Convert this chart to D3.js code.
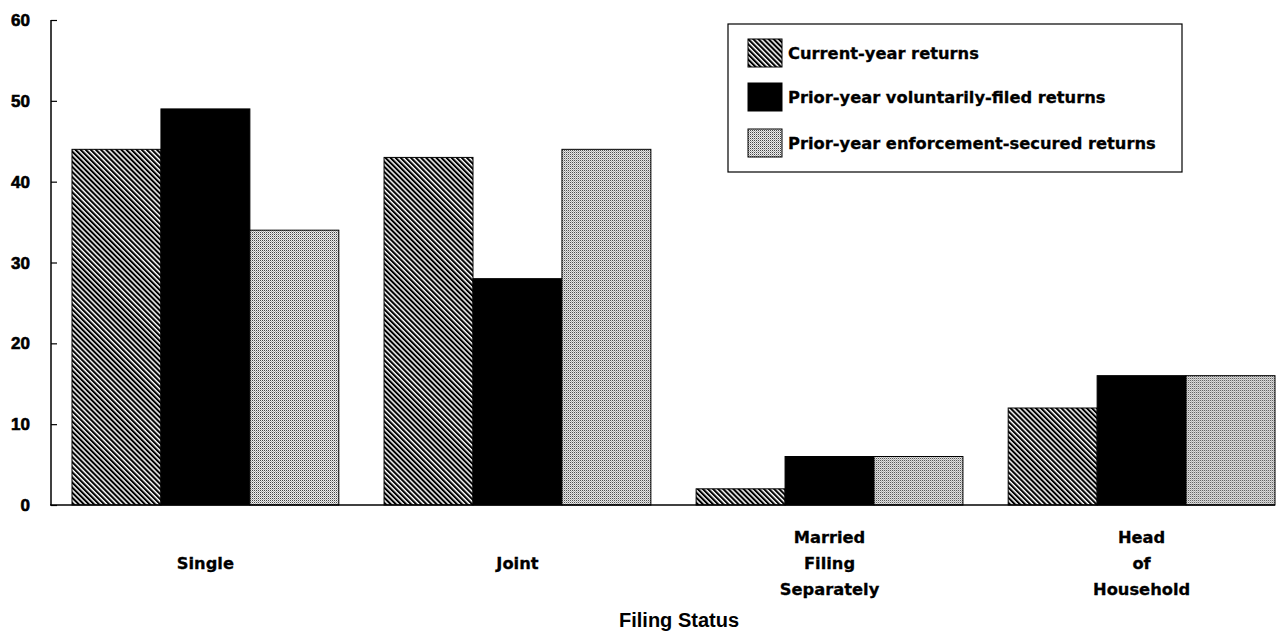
<!DOCTYPE html>
<html>
<head>
<meta charset="utf-8">
<script src="https://cdn.jsdelivr.net/npm/d3@7"></script>
<style>
  body { margin: 0; background: #fff; }
  text { font-family: "DejaVu Sans", sans-serif; font-weight: bold; fill: #000; }
  text.lib { font-family: "Liberation Sans", Arial, sans-serif; }
</style>
</head>
<body>
<svg id="chart" width="1284" height="632"></svg>
<script>
const categories = ["Single", "Joint", "Married\nFiling\nSeparately", "Head\nof\nHousehold"];
const seriesNames = ["Current-year returns", "Prior-year voluntarily-filed returns", "Prior-year enforcement-secured returns"];
const currentYear = [44, 43, 2, 12];
const priorVoluntary = [49, 28, 6, 16];
const priorEnforcement = [34, 44, 6, 16];
const yTicks = [0, 10, 20, 30, 40, 50, 60];
const xTitle = "Filing Status";

const seriesValues = [currentYear, priorVoluntary, priorEnforcement];
const fills = ["url(#hatch)", "#000", "url(#dots)"];

const svg = d3.select("#chart");
const defs = svg.append("defs");

const hatch = defs.append("pattern").attr("id", "hatch")
  .attr("patternUnits", "userSpaceOnUse").attr("width", 3.6).attr("height", 3.6)
  .attr("patternTransform", "rotate(-45)");
hatch.append("rect").attr("width", 3.6).attr("height", 3.6).attr("fill", "#fff");
hatch.append("rect").attr("x", 0).attr("y", 0).attr("width", 2.1).attr("height", 3.6).attr("fill", "#000");

const dots = defs.append("pattern").attr("id", "dots")
  .attr("patternUnits", "userSpaceOnUse").attr("width", 2).attr("height", 2);
dots.append("rect").attr("width", 2).attr("height", 2).attr("fill", "#eeeeee");
dots.append("rect").attr("x", 0).attr("y", 0).attr("width", 1).attr("height", 1).attr("fill", "#444");
dots.append("rect").attr("x", 1).attr("y", 1).attr("width", 1).attr("height", 1).attr("fill", "#aaa");

const axisX = 51, plotTop = 20, plotBottom = 505, plotRight = 1275;

const y = d3.scaleLinear().domain([0, 60]).range([plotBottom, plotTop]);
const x0 = d3.scaleBand().domain(categories).range([72, plotRight]).paddingInner(0.145).paddingOuter(0);
const x1 = d3.scaleBand().domain(d3.range(seriesNames.length)).range([0, x0.bandwidth()]);

// bars
categories.forEach((c, ci) => {
  const g = svg.append("g").attr("transform", `translate(${x0(c)},0)`);
  g.selectAll("rect").data(seriesValues.map((s, si) => ({ si, v: s[ci] })))
    .join("rect")
    .attr("x", d => x1(d.si))
    .attr("y", d => y(d.v))
    .attr("width", x1.bandwidth())
    .attr("height", d => y(0) - y(d.v))
    .attr("fill", d => fills[d.si])
    .attr("stroke", "#000")
    .attr("stroke-width", 1);
});

// y axis
const yAxis = d3.axisRight(y).tickValues(yTicks).tickSize(6).tickFormat("");
const ya = svg.append("g").attr("transform", `translate(${axisX},0)`).call(yAxis);
ya.select(".domain").attr("d", `M0,${plotTop}V${plotBottom}`).attr("stroke", "#000").attr("stroke-width", 1.5);
ya.selectAll(".tick line").attr("stroke", "#000").attr("stroke-width", 1.2);
svg.append("g").selectAll("text").data(yTicks).join("text")
  .attr("class", "lib")
  .attr("x", 30).attr("y", d => y(d)).attr("dy", "0.36em")
  .attr("text-anchor", "end").attr("font-size", 17)
  .attr("stroke", "#000").attr("stroke-width", 0.6).text(d => d);

// baseline
svg.append("line").attr("x1", axisX - 1).attr("x2", plotRight).attr("y1", y(0)).attr("y2", y(0))
  .attr("stroke", "#000").attr("stroke-width", 1.5);

// x labels
categories.forEach(c => {
  const lines = c.split("\n");
  const cx = x0(c) + x0.bandwidth() / 2;
  const startY = lines.length === 1 ? 563 : 537;
  const t = svg.append("text").attr("text-anchor", "middle").attr("font-size", 16.3)
    .attr("stroke", "#000").attr("stroke-width", 0.3);
  lines.forEach((l, i) => {
    t.append("tspan").attr("x", cx).attr("y", startY + i * 26).attr("dy", "0.36em").text(l);
  });
});

svg.append("text").attr("class", "lib").attr("x", 679).attr("y", 627)
  .attr("text-anchor", "middle").attr("font-size", 20).text(xTitle);

// legend
const lg = svg.append("g");
lg.append("rect").attr("x", 728).attr("y", 24).attr("width", 454).attr("height", 148)
  .attr("fill", "#fff").attr("stroke", "#000").attr("stroke-width", 1.2);
const rowY = [53, 97, 143];
seriesNames.forEach((n, i) => {
  lg.append("rect").attr("x", 748).attr("y", rowY[i] - 14).attr("width", 34).attr("height", 28)
    .attr("fill", fills[i]).attr("stroke", "#000").attr("stroke-width", 1);
  lg.append("text").attr("x", 788).attr("y", rowY[i]).attr("dy", "0.36em")
    .attr("font-size", 16.3).attr("stroke", "#000").attr("stroke-width", 0.3).text(n);
});
</script>
</body>
</html>
